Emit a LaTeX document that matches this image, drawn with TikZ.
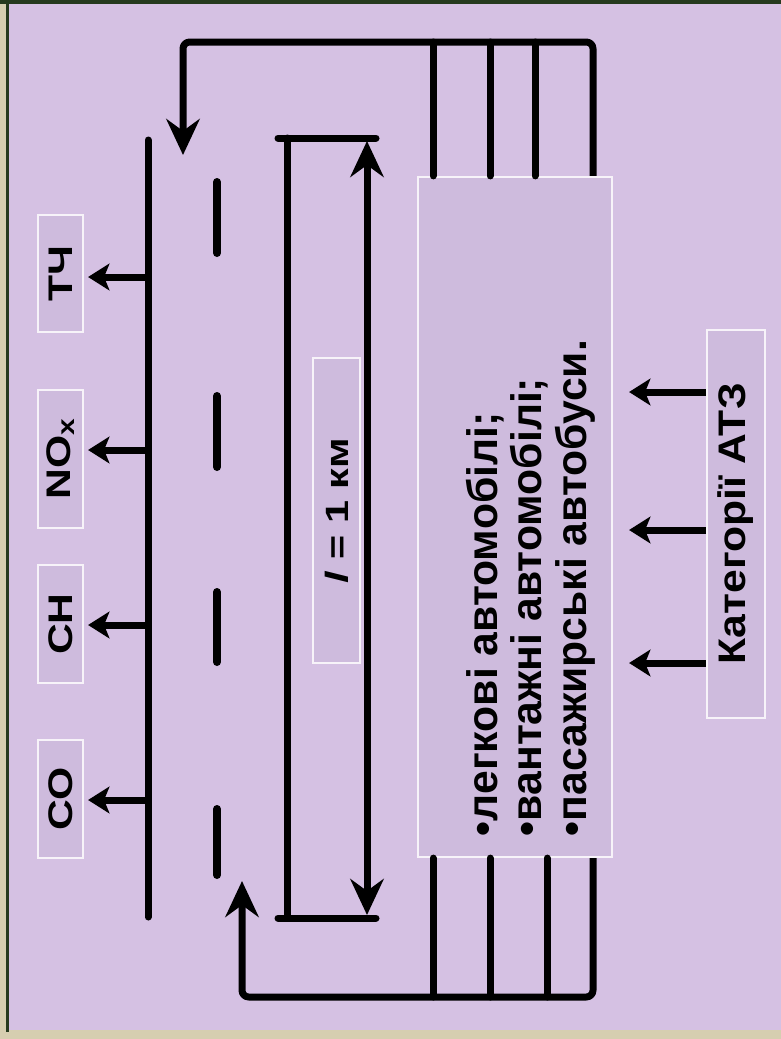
\documentclass[tikz,border=0pt]{standalone}
\usepackage{fontspec}
\setmainfont{Liberation Sans}
\usetikzlibrary{arrows.meta}
\definecolor{bg}{RGB}{213,193,227}
\definecolor{boxfill}{RGB}{206,187,221}
\definecolor{frameg}{RGB}{38,58,30}
\definecolor{beige}{RGB}{214,206,176}
\begin{document}
\begin{tikzpicture}[x=0.75pt,y=-0.75pt,
  every node/.style={font=\bfseries, inner sep=0pt},
  wire/.style={line width=5.25pt, line cap=round, line join=round},
  bigarr/.style={line width=5.25pt, line join=round, -{Stealth[length=27pt,width=25pt,inset=9pt]}},
  dimarr/.style={line width=5.25pt, {Stealth[length=27pt,width=25pt,inset=9pt]}-{Stealth[length=27pt,width=25pt,inset=9pt]}},
  smallarr/.style={line width=5.25pt, -{Stealth[length=16pt,width=20pt,inset=4pt]}},
  dashseg/.style={line width=6pt, line cap=round},
  lbox/.style={draw=white!80!bg, line width=1.6pt, fill=boxfill}]
% background and frame
\fill[beige] (0,0) rectangle (781,1039);
\fill[bg] (9,4) rectangle (781,1030);
\fill[frameg] (0,0) rectangle (781,3.5);
\fill[frameg] (6,0) rectangle (8.5,1032);
\useasboundingbox (0,0) rectangle (781,1039);

% boxes
\node[lbox, minimum width=145.5pt, minimum height=510pt] (box) at (515,517) {};
\node (items) at (533,588) {\rotatebox{90}{\fontsize{32}{33.4}\selectfont
  \begin{tabular}{@{}l@{}}•легкові автомобілі;\\•вантажні автомобілі;\\•пасажирські автобуси.\end{tabular}}};
\node[lbox, minimum width=43.5pt, minimum height=291pt] (cat) at (736,524)
  {\scalebox{0.9}[1]{\rotatebox{90}{\fontsize{32}{34}\selectfont Категорії АТЗ}}};
\node[lbox, minimum width=35.25pt, minimum height=228.75pt] (len) at (336.5,510.5)
  {\scalebox{0.78}[1]{\rotatebox{90}{\fontsize{31}{34}\selectfont\textit{l} = 1 км}}};
\node[lbox, minimum width=33.75pt, minimum height=87.75pt] (tch) at (60.5,273.5)
  {\scalebox{0.8}[1]{\rotatebox{90}{\fontsize{32}{34}\selectfont ТЧ}}};
\node[lbox, minimum width=33.75pt, minimum height=103.5pt] (nox) at (60.5,459)
  {\scalebox{0.8}[1]{\rotatebox{90}{\fontsize{32}{34}\selectfont NO\textsubscript{x}}}};
\node[lbox, minimum width=33.75pt, minimum height=88.5pt] (ch) at (60.5,624)
  {\scalebox{0.8}[1]{\rotatebox{90}{\fontsize{32}{34}\selectfont СН}}};
\node[lbox, minimum width=33.75pt, minimum height=88.5pt] (co) at (60.5,799)
  {\scalebox{0.8}[1]{\rotatebox{90}{\fontsize{32}{34}\selectfont СО}}};

% emission trunk
\coordinate (trTop) at (148,140);
\coordinate (trBot) at (148,917);
\draw[wire] (trTop) -- (trBot);
\coordinate (e1) at (148,277);
\coordinate (e2) at (148,450);
\coordinate (e3) at (148,625);
\coordinate (e4) at (148,800);
\draw[smallarr, shorten >=3pt] (e1) -- (e1 -| tch.east);
\draw[smallarr, shorten >=3pt] (e2) -- (e2 -| nox.east);
\draw[smallarr, shorten >=3pt] (e3) -- (e3 -| ch.east);
\draw[smallarr, shorten >=3pt] (e4) -- (e4 -| co.east);

% road centre dashes
\draw[dashseg] (217,182) -- (217,253);
\draw[dashseg] (217,396) -- (217,467);
\draw[dashseg] (217,592) -- (217,662);
\draw[dashseg] (217,809) -- (217,875);

% length dimension
\coordinate (dTL) at (278,138);
\coordinate (dTR) at (376,138);
\coordinate (dBL) at (278,918);
\coordinate (dBR) at (376,918);
\draw[wire] (dTL) -- (dTR);
\draw[wire] (dBL) -- (dBR);
\draw[wire] (287,138) -- (287,918);
\coordinate (aT) at (367,141);
\coordinate (aB) at (367,915);
\draw[dimarr] (aT) -- (aB);

% category arrows
\coordinate (c1) at (736,392);
\coordinate (c2) at (736,530);
\coordinate (c3) at (736,663);
\draw[smallarr, shorten >=12pt] (c1 -| cat.west) -- (c1 -| box.east);
\draw[smallarr, shorten >=12pt] (c2 -| cat.west) -- (c2 -| box.east);
\draw[smallarr, shorten >=12pt] (c3 -| cat.west) -- (c3 -| box.east);

% top loop
\coordinate (t1) at (433,42);
\coordinate (t2) at (490,42);
\coordinate (t3) at (535,42);
\coordinate (t4) at (593,42);
\coordinate (tL) at (183,42);
\coordinate (tEnd) at (183,155);
\draw[bigarr, rounded corners=5pt] (t4 |- box.north) -- (t4) -- (tL) -- (tEnd);
\draw[wire] (t1 |- box.north) -- (t1);
\draw[wire] (t2 |- box.north) -- (t2);
\draw[wire] (t3 |- box.north) -- (t3);

% bottom loop
\coordinate (b1) at (433,997);
\coordinate (b2) at (490,997);
\coordinate (b3) at (547,997);
\coordinate (b4) at (593,997);
\coordinate (bL) at (242,997);
\coordinate (bEnd) at (242,881);
\draw[bigarr, rounded corners=5pt] (b4 |- box.south) -- (b4) -- (bL) -- (bEnd);
\draw[wire] (b1 |- box.south) -- (b1);
\draw[wire] (b2 |- box.south) -- (b2);
\draw[wire] (b3 |- box.south) -- (b3);
\end{tikzpicture}
\end{document}
